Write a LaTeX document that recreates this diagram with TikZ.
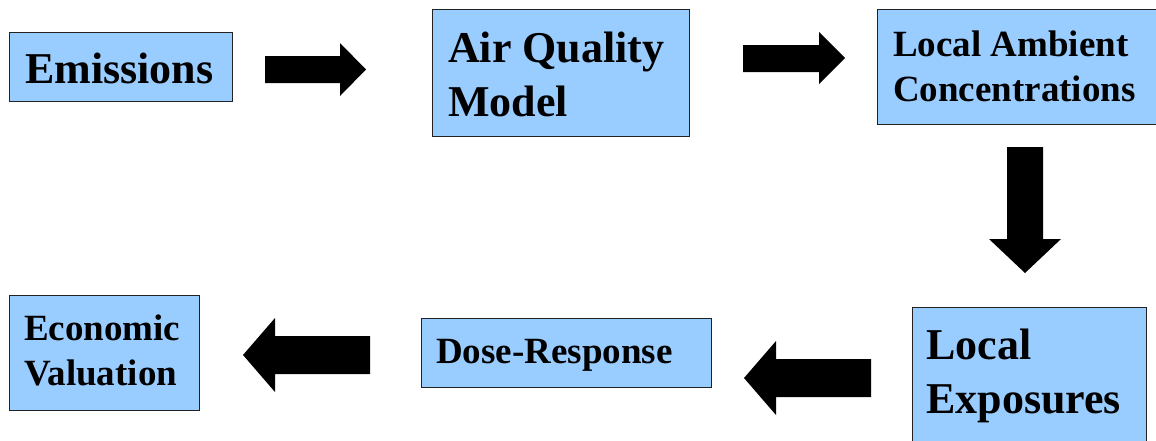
\documentclass[tikz,border=0pt]{standalone}
\usepackage{fontspec}
\setmainfont{Liberation Serif}
\definecolor{boxblue}{HTML}{99CCFF}
\definecolor{boxline}{HTML}{222222}
\newcommand\twolines[2]{\vtop{\hbox{#1}\hbox{#2}}}
\begin{document}
\begin{tikzpicture}[x=1pt,y=-1pt,
  box/.style={draw=boxline, line width=1.2pt, fill=boxblue, inner sep=0pt, anchor=north west},
  big/.style={font=\fontsize{44}{54}\selectfont\bfseries, inner sep=0pt, anchor=base west},
  small/.style={font=\fontsize{37}{45}\selectfont\bfseries, inner sep=0pt, anchor=base west},
  blockarrow/.style={fill=black}]
\clip (0,0) rectangle (1156,440);
\fill[white] (0,0) rectangle (1156,440);
% boxes
\node[box, minimum width=223pt, minimum height=69pt]  (emis) at (9,32) {};
\node[box, minimum width=257pt, minimum height=127pt] (aqm)  at (432,9) {};
\node[box, minimum width=290pt, minimum height=115pt] (lac)  at (877,9) {};
\node[box, minimum width=234pt, minimum height=140pt] (expo) at (912,307) {};
\node[box, minimum width=290pt, minimum height=69pt]  (dose) at (421,318) {};
\node[box, minimum width=190pt, minimum height=115pt] (econ) at (9,295) {};
% texts
\node[big]   (emistext) at (25,83)   {Emissions};
\node[big]   (aqmtext)  at (448,62)  {\twolines{Air Quality}{Model}};
\node[small] (lactext)  at (893,56)  {\twolines{Local Ambient}{Concentrations}};
\node[big]   (expotext) at (926,359) {\twolines{Local}{Exposures}};
\node[small] (econtext) at (24,340)  {\twolines{Economic}{Valuation}};
\node[small] (dosetext) at (436,363) {Dose-Response};
% block arrows
\fill[blockarrow] (265,56) -- (340,56) -- (340,43) -- (366,69.5) -- (340,96) -- (340,83) -- (265,83) -- cycle;
\fill[blockarrow] (743,45) -- (819,45) -- (819,32) -- (845,58) -- (819,84) -- (819,72) -- (743,72) -- cycle;
\fill[blockarrow] (1007,147) -- (1043,147) -- (1043,239) -- (1061,239) -- (1025,273) -- (989,239) -- (1007,239) -- cycle;
\fill[blockarrow] (871,359) -- (776,359) -- (776,341) -- (744,378) -- (776,415) -- (776,397) -- (871,397) -- cycle;
\fill[blockarrow] (370,336) -- (275,336) -- (275,318) -- (243,355) -- (275,392) -- (275,374) -- (370,374) -- cycle;
\end{tikzpicture}
\end{document}
